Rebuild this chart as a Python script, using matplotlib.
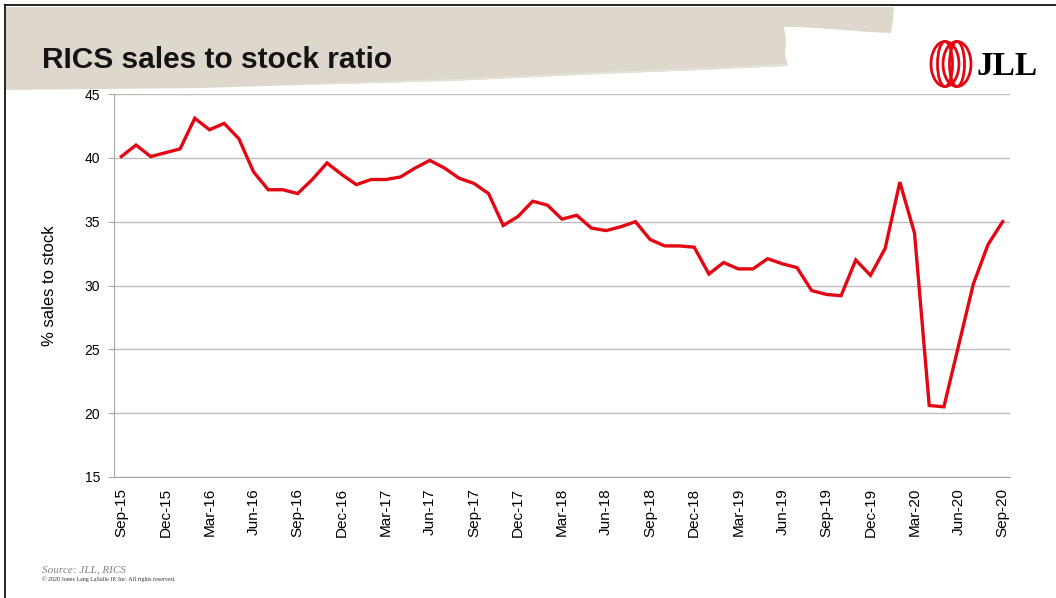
import matplotlib
matplotlib.use("Agg")
import matplotlib.pyplot as plt
from matplotlib.patches import Polygon, Ellipse

# Monthly RICS sales-to-stock ratio, Sep-15 .. Sep-20
ratio = [
    40.1, 41.0, 40.1, 40.4, 40.7, 43.1, 42.2, 42.7, 41.5, 38.9,
    37.5, 37.5, 37.2, 38.3, 39.6, 38.7, 37.9, 38.3, 38.3, 38.5,
    39.2, 39.8, 39.2, 38.4, 38.0, 37.2, 34.7, 35.4, 36.6, 36.3,
    35.2, 35.5, 34.5, 34.3, 34.6, 35.0, 33.6, 33.1, 33.1, 33.0,
    30.9, 31.8, 31.3, 31.3, 32.1, 31.7, 31.4, 29.6, 29.3, 29.2,
    32.0, 30.8, 32.9, 38.1, 34.1, 20.6, 20.5, 25.3, 30.1, 33.2,
    35.0,
]
tick_positions = list(range(0, 61, 3))
tick_labels = [
    "Sep-15", "Dec-15", "Mar-16", "Jun-16", "Sep-16", "Dec-16", "Mar-17",
    "Jun-17", "Sep-17", "Dec-17", "Mar-18", "Jun-18", "Sep-18", "Dec-18",
    "Mar-19", "Jun-19", "Sep-19", "Dec-19", "Mar-20", "Jun-20", "Sep-20",
]
y_ticks = [15, 20, 25, 30, 35, 40, 45]

W, H = 1056, 598
fig = plt.figure(figsize=(W / 100, H / 100), dpi=100)
fig.patch.set_facecolor("white")

# Decoration layer in pixel coordinates (y pointing down)
deco = fig.add_axes([0, 0, 1, 1])
deco.set_xlim(0, W)
deco.set_ylim(H, 0)
deco.axis("off")

# Brush-stroke header band
band = [(6, 7), (894, 7), (893, 20), (891, 33), (870, 32), (830, 29),
        (800, 27), (784, 27), (786, 40), (785, 55), (788, 66), (700, 70),
        (600, 74), (450, 81), (300, 85), (200, 88), (100, 89), (6, 90)]
deco.add_patch(Polygon(band, closed=True, facecolor="#DED8CC",
                       edgecolor="none", zorder=1))
streak = [(450, 79), (600, 72), (700, 68), (788, 64), (788, 66),
          (700, 70), (600, 74), (450, 81), (300, 85), (300, 84)]
deco.add_patch(Polygon(streak, closed=True, facecolor="#E6E1D7",
                       edgecolor="none", zorder=1.5))

# Slide frame
deco.plot([5, 5], [5, H], color="black", lw=1.2, zorder=5)
deco.plot([5, W], [5, 5], color="black", lw=1.2, zorder=5)

deco.text(42, 68, "RICS sales to stock ratio", fontsize=21.5,
          fontweight="bold", family="Liberation Sans", color="#141414",
          va="baseline", ha="left", zorder=3)

# JLL mark: interlocking rings plus wordmark
for cx, w in [(945, 28), (945, 15), (957, 28), (957, 15)]:
    deco.add_patch(Ellipse((cx, 64), w, 45, facecolor="none",
                           edgecolor="#E30613", lw=2.0, zorder=3))
deco.text(977, 75, "JLL", fontsize=24, fontweight="bold",
          family="Liberation Serif", color="black", va="baseline",
          ha="left", zorder=3)

deco.text(42, 570, "Source: JLL, RICS", fontsize=8, style="italic",
          family="Liberation Serif", color="#7F7F7F", va="center")
deco.text(42, 579, "\u00a9 2020 Jones Lang LaSalle IP, Inc. All rights reserved.",
          fontsize=4.3, family="Liberation Serif", color="#333333",
          va="center")

# Chart
ax = fig.add_axes([114 / W, 1 - 477 / H, (1010 - 114) / W, (477 - 94) / H])
ax.patch.set_alpha(0)
ax.plot(range(len(ratio)), ratio, color="#E30613", lw=2.4,
        solid_joinstyle="miter", zorder=3)
ax.set_xlim(-0.5, len(ratio) - 0.5)
ax.set_ylim(15, 45)
ax.set_yticks(y_ticks)
ax.yaxis.grid(True, color="#BDBDBD", lw=1)
ax.set_axisbelow(True)
for s in ["top", "right"]:
    ax.spines[s].set_visible(False)
for s in ["left", "bottom"]:
    ax.spines[s].set_color("#A6A6A6")
ax.set_xticks(tick_positions)
ax.set_xticklabels(tick_labels, rotation=90, fontsize=11,
                   family="Liberation Sans")
ax.tick_params(axis="x", length=0, pad=8)
ax.tick_params(axis="y", length=4, color="#A6A6A6", pad=6, labelsize=10)
for lbl in ax.get_yticklabels():
    lbl.set_family("Liberation Sans")
ax.set_ylabel("% sales to stock", fontsize=12, family="Liberation Sans",
              labelpad=20)

fig.savefig("out.png", dpi=100)
